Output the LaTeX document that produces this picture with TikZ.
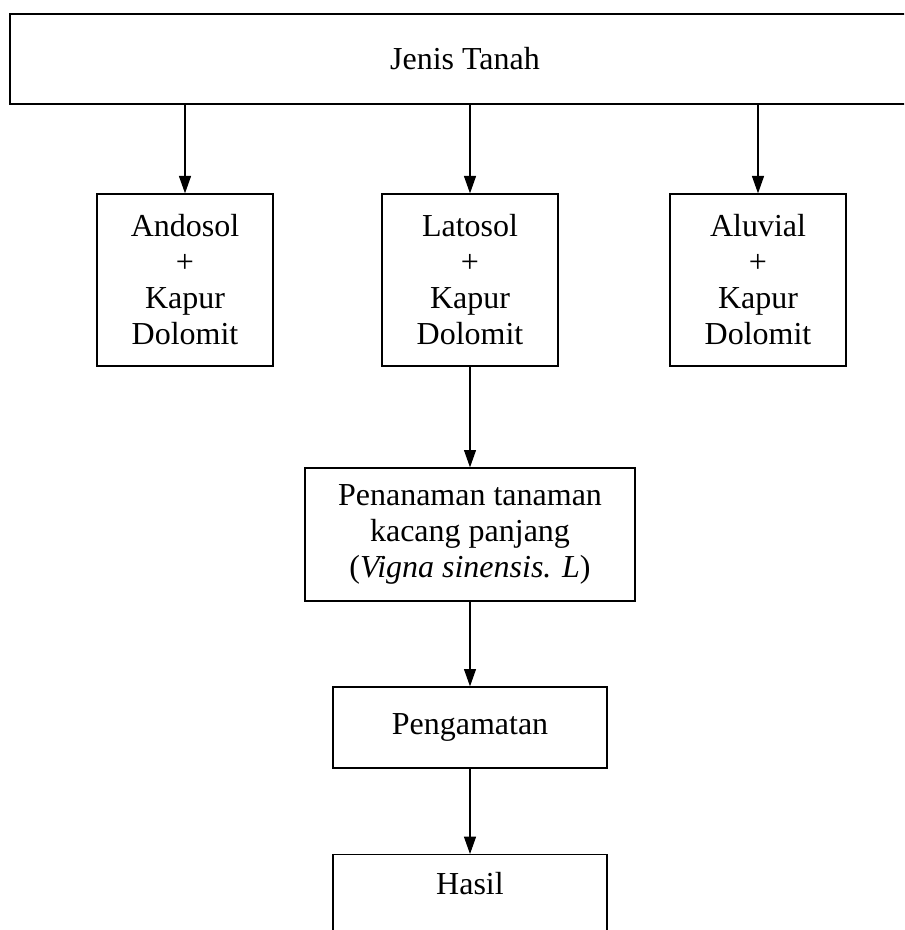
\documentclass[tikz,border=0pt]{standalone}
\usepackage{fontspec}
\setmainfont{Liberation Serif}
\usetikzlibrary{arrows.meta}
\tikzset{
  kotak/.style={draw, line width=1pt, align=center, inner sep=0pt},
  panah/.style={-{Triangle[width=9pt,length=13pt]}, line width=0.8pt}
}
\begin{document}
\begin{tikzpicture}[x=0.75pt, y=-0.75pt, font=\fontsize{24}{27}\selectfont]
  \clip (0,0) rectangle (904,930);
  % jenis tanah
  \node[kotak, minimum width=682.5pt, minimum height=67.5pt] (jenis) at (465,59) {Jenis Tanah};
  % tanah + kapur
  \node[kotak, minimum width=132pt, minimum height=129pt] (andosol) at (185,280) {Andosol\\+\\Kapur\\Dolomit};
  \node[kotak, minimum width=132pt, minimum height=129pt] (latosol) at (470,280) {Latosol\\+\\Kapur\\Dolomit};
  \node[kotak, minimum width=132pt, minimum height=129pt] (aluvial) at (758,280) {Aluvial\\+\\Kapur\\Dolomit};
  % penanaman, pengamatan, hasil
  \node[kotak, minimum width=247.5pt, minimum height=99.75pt] (tanam) at (470,534.5) {Penanaman tanaman\\kacang panjang\\(\textit{Vigna sinensis. L})};
  \node[kotak, minimum width=205.5pt, minimum height=60.75pt] (amat) at (470,727.5) {Pengamatan};
  \node[kotak, anchor=north, minimum width=205.5pt, inner ysep=6pt, text height=24pt, text depth=60pt] (hasil) at (470,854) {Hasil};
  \draw[panah] (jenis.south -| andosol.north) -- (andosol.north);
  \draw[panah] (jenis.south -| latosol.north) -- (latosol.north);
  \draw[panah] (jenis.south -| aluvial.north) -- (aluvial.north);
  \draw[panah] (latosol.south) -- (tanam.north);
  \draw[panah] (tanam.south) -- (amat.north);
  \draw[panah] (amat.south) -- (hasil.north);
\end{tikzpicture}
\end{document}
